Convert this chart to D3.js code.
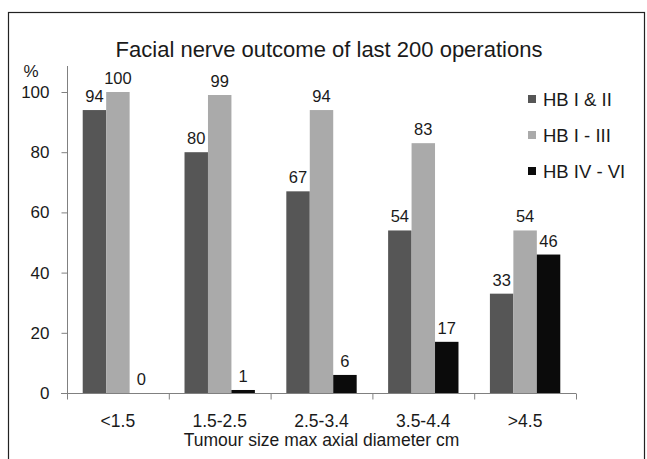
<!DOCTYPE html>
<html>
<head>
<meta charset="utf-8">
<script src="https://cdn.jsdelivr.net/npm/d3@7"></script>
<style>
  html, body { margin: 0; padding: 0; background: #fff; }
  svg { display: block; }
  text { font-family: "Liberation Sans", Arial, sans-serif; fill: #1a1a1a; }
</style>
</head>
<body>
<svg id="chart" width="647" height="459"></svg>
<script>
const categories = ["<1.5", "1.5-2.5", "2.5-3.4", "3.5-4.4", ">4.5"];
const seriesNames = ["HB I & II", "HB I - III", "HB IV - VI"];
const hb12 = [94, 80, 67, 54, 33];
const hb13 = [100, 99, 94, 83, 54];
const hb46 = [0, 1, 6, 17, 46];
const yTicks = [0, 20, 40, 60, 80, 100];
const seriesColors = ["#565656", "#aaaaaa", "#0b0b0b"];
const titleText = "Facial nerve outcome of last 200 operations";
const xTitle = "Tumour size max axial diameter cm";
const yUnit = "%";

const seriesValues = [hb12, hb13, hb46];

const svg = d3.select("#chart");

// outer frame
svg.append("rect").attr("x", 8.5).attr("y", 12.5).attr("width", 636).attr("height", 460)
  .attr("fill", "none").attr("stroke", "#222").attr("stroke-width", 1.2);

const x0 = d3.scaleBand().domain(categories).range([67, 576]).padding(0);
const x1 = d3.scaleBand().domain(d3.range(3)).range([0, x0.bandwidth()]).paddingInner(0).paddingOuter(0.67);
const y = d3.scaleLinear().domain([0, 100]).range([393, 92]);

// bars
const groups = svg.append("g").selectAll("g").data(categories).join("g")
  .attr("transform", d => `translate(${x0(d)},0)`);

groups.selectAll("rect").data((c, ci) => seriesValues.map((s, si) => ({si, v: s[ci]})))
  .join("rect")
  .attr("x", d => x1(d.si))
  .attr("width", x1.bandwidth())
  .attr("y", d => y(d.v))
  .attr("height", d => y(0) - y(d.v))
  .attr("fill", d => seriesColors[d.si]);

groups.selectAll("text.lbl").data((c, ci) => seriesValues.map((s, si) => ({si, v: s[ci]})))
  .join("text").attr("class", "lbl")
  .attr("x", d => x1(d.si) + x1.bandwidth() / 2)
  .attr("y", d => y(d.v) - 8)
  .attr("text-anchor", "middle")
  .attr("font-size", 16.5)
  .text(d => d.v);

// y axis
const yAxis = svg.append("g").attr("transform", "translate(67.5,0)")
  .call(d3.axisLeft(y).tickValues(yTicks).tickSize(6).tickPadding(12));
yAxis.select(".domain").attr("stroke", "#808080").attr("d", `M0,${y(0)}V${y(100) - 26}`);
yAxis.selectAll(".tick line").attr("stroke", "#808080");
yAxis.selectAll(".tick text").attr("font-size", 17).attr("font-family", "Liberation Sans, Arial, sans-serif").attr("fill", "#1a1a1a");

// x axis
const xAxisG = svg.append("g").attr("transform", `translate(0,${y(0) + 0.5})`);
xAxisG.append("line").attr("x1", 61).attr("x2", x0.range()[1]).attr("y1", 0).attr("y2", 0).attr("stroke", "#808080");
const bounds = categories.map(c => x0(c)).concat([x0.range()[1]]);
xAxisG.selectAll("line.tk").data(bounds).join("line").attr("class", "tk")
  .attr("x1", d => d + 0.5).attr("x2", d => d + 0.5).attr("y1", 0).attr("y2", 6).attr("stroke", "#808080");
xAxisG.selectAll("text").data(categories).join("text")
  .attr("x", d => x0(d) + x0.bandwidth() / 2)
  .attr("y", 33)
  .attr("text-anchor", "middle")
  .attr("font-size", 17.5)
  .text(d => d);

svg.append("text").attr("x", x0.range()[0] + (x0.range()[1] - x0.range()[0]) / 2).attr("y", 446)
  .attr("text-anchor", "middle").attr("font-size", 17.5).text(xTitle);

// title
svg.append("text").attr("x", 329).attr("y", 57).attr("text-anchor", "middle")
  .attr("font-size", 22).text(titleText);

svg.append("text").attr("x", 31).attr("y", 77).attr("text-anchor", "middle")
  .attr("font-size", 17).text(yUnit);

// legend
const legend = svg.append("g").selectAll("g").data(seriesNames).join("g")
  .attr("transform", (d, i) => `translate(528,${99 + i * 36})`);
legend.append("rect").attr("x", 0).attr("y", -4).attr("width", 8).attr("height", 8)
  .attr("fill", (d, i) => seriesColors[i]);
legend.append("text").attr("x", 15).attr("y", 0).attr("dy", "0.36em")
  .attr("font-size", 18.5).text(d => d);
</script>
</body>
</html>
